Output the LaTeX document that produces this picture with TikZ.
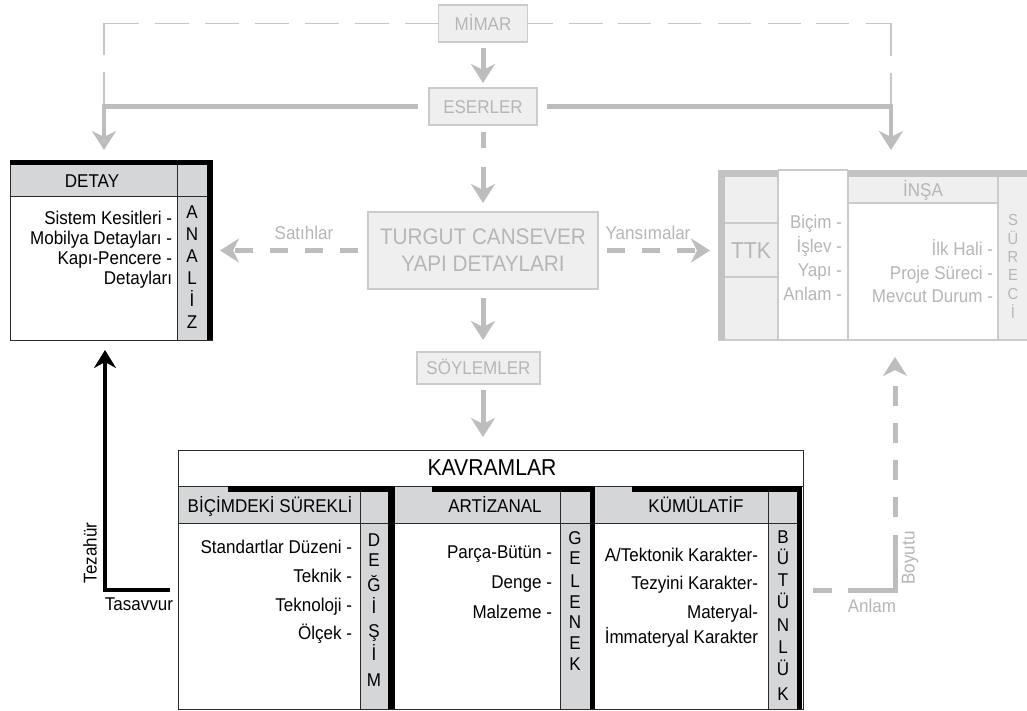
\documentclass[tikz,border=0pt]{standalone}
\usepackage{fontspec}
\setmainfont{Liberation Sans}[FakeStretch=0.92]
\usetikzlibrary{arrows.meta,calc}
\newcommand\myfs[2]{\fontsize{#1}{#2}\selectfont}
\definecolor{gline}{HTML}{BDBDBD}
\definecolor{gthin}{HTML}{C6C6C6}
\definecolor{gtext}{HTML}{B6B6B6}
\definecolor{gfill}{HTML}{EFEFEF}
\definecolor{gbord}{HTML}{CBCBCB}
\definecolor{hfill}{HTML}{D5D6D7}
\definecolor{bline}{HTML}{2A2A2A}
\definecolor{tthick}{HTML}{C3C3C3}
\begin{document}
\begin{tikzpicture}[x=1pt,y=-1pt,
  every node/.style={inner sep=0pt,outer sep=0pt},
  framebox/.style={anchor=north west},
  gbox/.style={draw=gbord,fill=gfill,line width=1.2pt,text=gtext,font=\myfs{18.5}{22}},
  onel/.style={text height=13.2pt,text depth=0pt},
  glabel/.style={text=gtext,font=\myfs{18.5}{22},text height=13.2pt,text depth=0pt},
  btext/.style={text=black,font=\myfs{18.5}{22},text height=13.2pt,text depth=0pt},
  bigtext/.style={font=\myfs{23}{27},text height=16.5pt,text depth=0pt},
  smalltext/.style={text=gtext,font=\myfs{16}{19},text height=11.5pt,text depth=0pt},
  garrow/.style={draw=gline,line width=5pt,-{Stealth[length=19pt,width=24pt,inset=6pt]}},
  gdash/.style={garrow,dash pattern=on 18pt off 17pt},
  thinline/.style={draw=gthin,line width=1.3pt},
  bthin/.style={draw=bline,line width=1pt},
  tthin/.style={draw=gbord,line width=1.2pt},
]
\useasboundingbox (0,0) rectangle (1027,711);
\fill[white] (0,0) rectangle (1027,711);

% frames
\node[framebox,minimum width=203pt,minimum height=180pt] (detay) at (10,160) {};
\node[framebox,minimum width=309pt,minimum height=170pt] (ttk) at (718,170) {};
\node[framebox,minimum width=625pt,minimum height=259pt] (kav) at (178,450) {};

% gray boxes
\node[gbox,onel,minimum width=89pt,minimum height=37pt] (mimar) at (483,23.5) {MİMAR};
\node[gbox,onel,minimum width=108pt,minimum height=37pt] (eserler) at (483,106.5) {ESERLER};
\node[gbox,minimum width=230pt,minimum height=77pt,font=\myfs{22.5}{27},align=center] (turgut) at (483,250.5) {TURGUT CANSEVER\\YAPI DETAYLARI};
\node[gbox,onel,minimum width=123pt,minimum height=32pt] (soylem) at (478.5,368) {SÖYLEMLER};

\coordinate (lc) at (104,107);
\coordinate (rc) at (891,107);

% top dashed thin lines
\draw[thinline,dash pattern=on 34pt off 16pt on 34pt off 16pt on 34pt off 16pt on 34pt off 16pt on 34pt off 16pt on 34pt off 16pt on 66pt off 17pt on 200pt] (mimar.west) -| (lc);
\draw[thinline,dash pattern=on 25pt off 16pt on 34pt off 15pt on 33pt off 17pt on 33pt off 17pt on 33pt off 17pt on 33pt off 15pt on 33pt off 17pt on 58pt off 17pt on 200pt] (mimar.east) -| (rc);

% thick gray distribution lines
\draw[garrow,line width=4.5pt,shorten >=10pt] ([xshift=-11pt]eserler.west) -| (lc |- detay.north);
\draw[garrow,line width=4.5pt,shorten >=20pt] ([xshift=10pt]eserler.east) -| (rc |- ttk.north);

% vertical flow
\draw[garrow,shorten <=6pt,shorten >=5pt] (mimar.south) -- (eserler.north);
\draw[garrow,dash pattern=on 0pt off 7pt on 16pt off 19pt on 200pt,shorten >=9pt] (eserler.south) -- (turgut.north);
\draw[garrow,shorten <=9pt,shorten >=12pt] (turgut.south) -- (soylem.north -| turgut.south);
\draw[garrow,shorten <=6pt,shorten >=13pt] (soylem.south -| turgut.south) -- (kav.north -| turgut.south);

% side dashed arrows
\draw[gdash,shorten <=10pt,shorten >=7pt] (turgut.west) -- (turgut.west -| detay.east);
\draw[gdash,shorten <=9pt,shorten >=8pt] (turgut.east) -- (turgut.east -| ttk.west);
\node[glabel] (sat) at (304,233) {Satıhlar};
\node[glabel] (yans) at (648,233) {Yansımalar};

% ---------- DETAY box ----------
\fill[white] (detay.north west) rectangle (detay.south east);
\fill[hfill] (10,165) rectangle (207,197);
\fill[hfill] (177,197) rectangle (207,340);
\draw[bthin] (10,197) -- (207,197);
\draw[bthin] (177,165) -- (177,340);
\draw[bthin] (10,160) -- (10,340) -- (213,340);
\fill[black] (10,160) rectangle (213,165);
\fill[black] (207,160) rectangle (213,340);
\node[btext] (dhead) at (92,181) {DETAY};
\node[btext,anchor=east] (d1) at (172,218) {Sistem Kesitleri -};
\node[btext,anchor=east] (d2) at (172,238) {Mobilya Detayları -};
\node[btext,anchor=east] (d3) at (172,258) {Kapı-Pencere -};
\node[btext,anchor=east] (d4) at (172,278) {Detayları};
\foreach \ch/\yy [count=\i] in {A/212,N/234,A/256,L/278,İ/300,Z/322}
  \node[btext] (an\i) at (192,\yy) {\ch};

% ---------- TTK box ----------
\fill[gfill] (725,177) rectangle (778,340);
\fill[gfill] (848,177) rectangle (998,203);
\fill[gfill] (998,177) rectangle (1027,340);
\draw[tthin] (778,170) -- (778,340);
\draw[tthin] (778,170) -- (848,170);
\draw[tthin] (848,170) -- (848,340);
\draw[tthin] (725,223) -- (778,223);
\draw[tthin] (725,277) -- (778,277);
\draw[tthin] (848,203) -- (998,203);
\draw[tthin] (998,177) -- (998,340);
\draw[tthin] (718,340) -- (1027,340);
\fill[tthick] (718,170) rectangle (778,177);
\fill[tthick] (848,170) rectangle (1027,177);
\fill[tthick] (718,170) rectangle (725,340);
\node[glabel,bigtext] (ttkt) at (751,250) {TTK};
\node[glabel,anchor=east] (t1) at (842,222) {Biçim -};
\node[glabel,anchor=east] (t2) at (842,246) {İşlev -};
\node[glabel,anchor=east] (t3) at (842,270) {Yapı -};
\node[glabel,anchor=east] (t4) at (842,294) {Anlam -};
\node[glabel] (insa) at (923,190) {İNŞA};
\node[glabel,anchor=east] (i1) at (993,249) {İlk Hali -};
\node[glabel,anchor=east] (i2) at (993,273) {Proje Süreci -};
\node[glabel,anchor=east] (i3) at (993,296) {Mevcut Durum -};
\foreach \ch/\yy [count=\i] in {S/220,Ü/239,R/257,E/275,C/294,İ/313}
  \node[smalltext] (sr\i) at (1013,\yy) {\ch};

% ---------- KAVRAMLAR box ----------
\fill[white] (kav.north west) rectangle (kav.south east);
\fill[hfill] (178,486) rectangle (388,523);
\fill[hfill] (360,523) rectangle (388,709);
\fill[hfill] (395,486) rectangle (590,523);
\fill[hfill] (560,523) rectangle (590,709);
\fill[hfill] (595,486) rectangle (797,523);
\fill[hfill] (768,523) rectangle (797,709);
\draw[bthin] (kav.north west) rectangle (kav.south east);
\draw[bthin] (178,486) -- (803,486);
\draw[bthin] (178,523) -- (388,523);
\draw[bthin] (360,486) -- (360,709);
\draw[bthin] (395,523) -- (590,523);
\draw[bthin] (560,486) -- (560,709);
\draw[bthin] (595,523) -- (797,523);
\draw[bthin] (768,486) -- (768,709);
\fill[black] (228,486) rectangle (395,492);
\fill[black] (388,486) rectangle (395,709);
\fill[black] (432,486) rectangle (595,492);
\fill[black] (590,486) rectangle (595,709);
\fill[black] (632,486) rectangle (802,492);
\fill[black] (797,486) rectangle (802,709);
\node[btext,bigtext] (kt) at (492,467) {KAVRAMLAR};
\node[btext] (h1) at (270,506) {BİÇİMDEKİ SÜREKLİ};
\node[btext] (h2) at (495,506) {ARTİZANAL};
\node[btext] (h3) at (696,506) {KÜMÜLATİF};
\node[btext,anchor=east] (p11) at (352,547) {Standartlar Düzeni -};
\node[btext,anchor=east] (p12) at (352,576) {Teknik -};
\node[btext,anchor=east] (p13) at (352,605) {Teknoloji -};
\node[btext,anchor=east] (p14) at (352,633) {Ölçek -};
\node[btext,anchor=east] (p21) at (552,552) {Parça-Bütün -};
\node[btext,anchor=east] (p22) at (552,582) {Denge -};
\node[btext,anchor=east] (p23) at (552,612) {Malzeme -};
\node[btext,anchor=east] (p31) at (758,555) {A/Tektonik Karakter-};
\node[btext,anchor=east] (p32) at (758,583) {Tezyini Karakter-};
\node[btext,anchor=east] (p33) at (758,612) {Materyal-};
\node[btext,anchor=east] (p34) at (758,637) {İmmateryal Karakter};
\foreach \ch/\yy [count=\i] in {D/540,E/560,Ğ/585,İ/607,Ş/631,İ/654,M/680}
  \node[btext] (dg\i) at (374,\yy) {\ch};
\foreach \ch/\yy [count=\i] in {G/538,E/558,L/581,E/602,N/622,E/643,K/664}
  \node[btext] (gl\i) at (575,\yy) {\ch};
\foreach \ch/\yy [count=\i] in {B/537,Ü/558,T/580,Ü/602,N/625,L/647,Ü/669,K/694}
  \node[btext] (bt\i) at (783,\yy) {\ch};

% ---------- Tezahür / Tasavvur ----------
\coordinate (tas) at (170,590);
\coordinate (tz) at (105,590);
\draw[black,line width=3.5pt,-{Stealth[length=18pt,width=22pt,inset=6pt]},shorten >=10pt] (tas) -- (tz) -- (tz |- detay.south);
\node[btext,rotate=90] (tezahur) at (90,553) {Tezahür};
\node[btext] (tasavvur) at (139,604) {Tasavvur};

% ---------- Anlam Boyutu ----------
\coordinate (an) at (813,590);
\coordinate (ac) at (895,590);
\draw[garrow,dash pattern=on 19pt off 16pt on 102pt off 18pt on 20pt off 17pt on 20pt off 17pt on 20pt off 17pt on 20pt off 17pt on 20pt off 17pt,shorten >=17pt] (an) -- (ac) -- (ac |- ttk.south);
\node[glabel] (anlam) at (872,606) {Anlam};
\node[glabel,rotate=90] (boyutu) at (908,558) {Boyutu};
\end{tikzpicture}
\end{document}
